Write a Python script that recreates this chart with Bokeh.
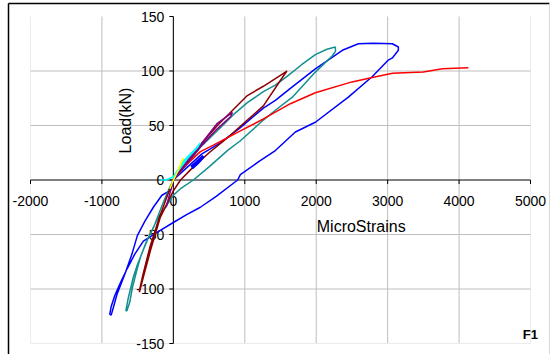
from bokeh.plotting import figure
from bokeh.models import Range1d
from bokeh.core.properties import value
from bokeh.embed import file_html
from bokeh.resources import INLINE

# ---------------- data ----------------
x_ticks = [-2000, -1000, 0, 1000, 2000, 3000, 4000, 5000]
x_tick_labels = ["-2000", "-1000", "0", "1000", "2000", "3000", "4000", "5000"]
y_ticks = [-150, -100, -50, 0, 50, 100, 150]
y_tick_labels = ["-150", "-100", "-50", "0", "50", "100", "150"]

blue_x = [0, 200, 400, 658, 938, 1260, 1428, 1638, 1988, 2366, 2590, 2800, 3066, 3150, 3150, 3066,
          3010, 2786, 2450, 1988, 1708, 1428, 1200, 938, 900, 600, 378, 180, 0, -200, -420, -540,
          -644, -740, -820, -870, -890, -870, -840, -790, -730, -672, -580, -504, -400, -280, -160, -42, 0]
blue_y = [0, 12, 24, 34, 48, 66, 73, 84, 102, 119, 125, 125.5, 125, 122, 119, 112,
          110, 95, 76, 53, 44, 27, 17, 5, 0, -15, -25, -32, -39, -47, -56, -68,
          -81, -94, -106, -116, -123, -124, -117, -105, -95, -85, -68, -51, -38, -25, -14, -9.6, 0]

teal_x = [0, 200, 378, 658, 840, 1036, 1260, 1428, 1610, 1800, 1988, 2150, 2268, 2270, 2226, 1988,
          1666, 1428, 1260, 938, 756, 500, 280, 100, 0, -224, -330, -420, -500, -560, -630, -665,
          -650, -610, -574, -520, -462, -380, -280, -150, -60, 0]
teal_y = [0, 15, 30, 48, 60, 71, 81, 87, 96, 106, 115, 120, 122, 118, 114, 99,
          76, 64, 55, 36, 27, 12, 0, -8, -14, -36, -50, -64, -77, -89, -108, -120,
          -120, -112, -99, -85, -71, -57, -44, -22, -8, 0]

maroon_x = [0, 200, 400, 616, 798, 1036, 1260, 1428, 1568, 1590, 1526, 1260, 1036, 798, 500, 250,
            100, 0, -182, -322, -420, -476, -470, -430, -330, -200, -60, 0]
maroon_y = [0, 18, 34, 50, 62, 77.5, 86, 93, 99, 100, 94, 68, 55, 41, 25, 10,
            0, -10, -34, -65, -89, -103, -100, -88, -62, -35, -10, 0]

red_x = [0, 150, 378, 560, 938, 1260, 1638, 1988, 2500, 2786, 3066, 3500, 3766, 4130]
red_y = [0, 12, 26, 32, 45, 56, 70, 80, 90, 94, 98, 99, 102, 103]

purple_x = [0, 200, 400, 616, 826, 800, 600, 400, 200, 0, -100]
purple_y = [0, 18, 34, 52, 62, 58, 46, 32, 16, 0, -25]

cyan_x = [-180, -100, 0, 150, 300, 378, 340, 200, 60, 0]
cyan_y = [0, 0, 3, 18, 28, 34, 30, 20, 8, 0]

yellow_x = [0, 60, 100, 140, 120, 60, 0, -50]
yellow_y = [0, 8, 14, 20, 18, 8, 0, -8]

blue2_x = [250, 320, 420, 400, 330, 260]
blue2_y = [12, 16, 22, 20, 15, 11]

# ---------------- figure ----------------
W, H = 550, 354
# frame covers whole canvas; plot area -2000..5000 at px 30..530, -150..150 at px 16..343
xs = 500 / 7000.0
ys = 327 / 300.0
x0 = -2000 - 30 / xs
x1 = 5000 + 20 / xs
y1 = 150 + 16 / ys
y0 = -150 - 11 / ys

p = figure(width=W, height=H, output_backend="svg", toolbar_location=None,
           x_range=Range1d(x0, x1), y_range=Range1d(y0, y1),
           x_axis_type=None, y_axis_type=None, min_border=0)
p.outline_line_color = None
p.background_fill_color = "white"
p.border_fill_color = "white"
p.grid.visible = False

FONT = value("Liberation Sans")

# grid lines
inner_x = [t for t in x_ticks if t not in (x_ticks[0], x_ticks[-1])]
p.segment(x0=inner_x, y0=[-150] * len(inner_x), x1=inner_x, y1=[150] * len(inner_x),
          line_color="#BEBEBE", line_width=1)
p.segment(x0=[x_ticks[0], x_ticks[-1]], y0=[-150, -150], x1=[x_ticks[0], x_ticks[-1]], y1=[150, 150],
          line_color="#EBEBEB", line_width=1)
gy = [-100, -50, 50, 100]
p.segment(x0=[-2000] * len(gy), y0=gy, x1=[5000] * len(gy), y1=gy, line_color="#BEBEBE", line_width=1)
p.segment(x0=[-2000], y0=[-150], x1=[5000], y1=[-150], line_color="#EBEBEB", line_width=1)

# chart-area border
bx = x0 + 8 / xs
by = y1 - 3 / ys
p.segment(x0=[bx, bx], y0=[by, by], x1=[bx, x1 - 1 / xs], y1=[y0, by], line_color="black", line_width=1.5)
p.segment(x0=[x1 - 1 / xs], y0=[by], x1=[x1 - 1 / xs], y1=[y0], line_color="#D8D8D8", line_width=1)

# axes crossing at origin
p.segment(x0=[0], y0=[-150], x1=[0], y1=[150], line_color="black", line_width=1)
p.segment(x0=[-2000], y0=[0], x1=[5000], y1=[0], line_color="black", line_width=1)
tl = 4
p.segment(x0=[-tl / xs] * len(y_ticks), y0=y_ticks, x1=[0] * len(y_ticks), y1=y_ticks,
          line_color="black", line_width=1)
p.segment(x0=x_ticks, y0=[0] * len(x_ticks), x1=x_ticks, y1=[-tl / ys] * len(x_ticks),
          line_color="black", line_width=1)

p.text(x=[0] * len(y_ticks), y=y_ticks, text=y_tick_labels, text_font=FONT, text_font_size="14px",
       text_align="right", text_baseline="middle", x_offset=-9, text_color="black")
p.text(x=x_ticks, y=[0] * len(x_ticks), text=x_tick_labels, text_font=FONT, text_font_size="14px",
       text_align="center", text_baseline="middle", y_offset=21, text_color="black")

p.text(x=[2630], y=[-42.5], text=["MicroStrains"], text_font=FONT, text_font_size="16px",
       text_align="center", text_baseline="middle", text_color="black")
p.text(x=[-672], y=[54.6], text=["Load(kN)"], text_font=FONT, text_font_size="16px",
       text_align="center", text_baseline="middle", angle=1.5708, text_color="black")
p.text(x=[4998], y=[-141.7], text=["F1"], text_font=FONT, text_font_size="13px",
       text_font_style="bold", text_align="center", text_baseline="middle", text_color="black")

# series
lw = 1.5
p.line(blue_x, blue_y, line_color="#0000FF", line_width=lw)
p.line(teal_x, teal_y, line_color="#138F8F", line_width=lw)
p.line(maroon_x, maroon_y, line_color="#8B0000", line_width=lw)
p.line(red_x, red_y, line_color="#FF0000", line_width=lw)
p.line(purple_x, purple_y, line_color="#800080", line_width=lw)
p.line(cyan_x, cyan_y, line_color="#00FFFF", line_width=lw)
p.line(yellow_x, yellow_y, line_color="#FFFF00", line_width=lw)
p.line(blue2_x, blue2_y, line_color="#0000FF", line_width=3)

open("out.html", "w").write(file_html(p, INLINE))
